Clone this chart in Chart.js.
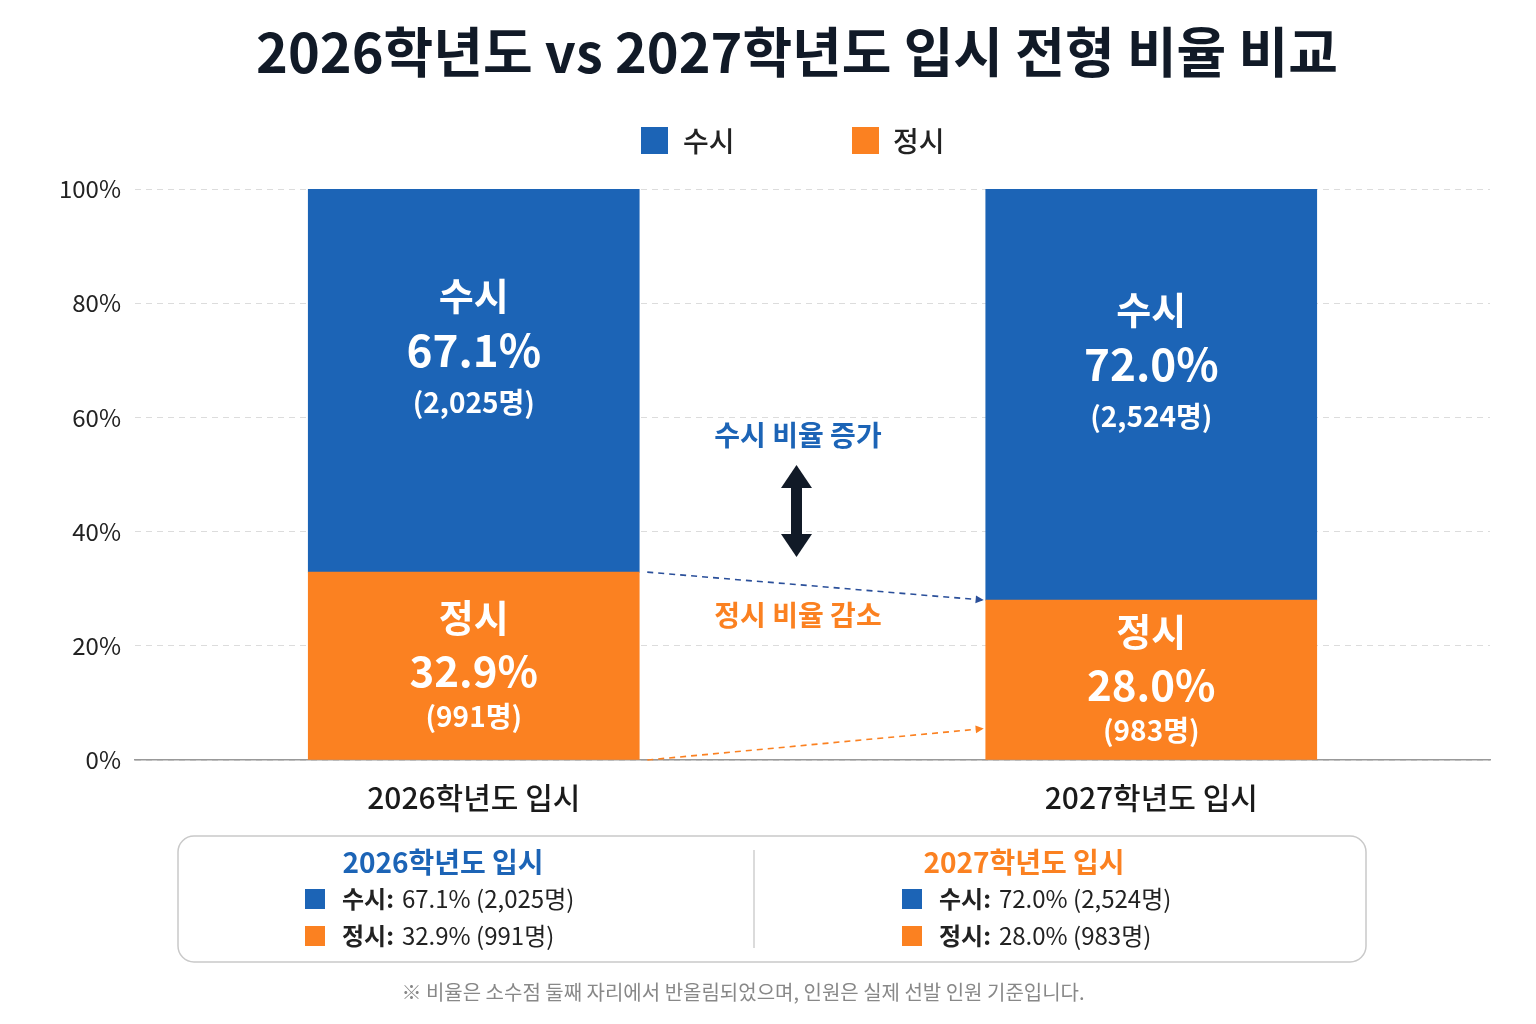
<!DOCTYPE html>
<html><head><meta charset="utf-8">
<script src="https://cdn.jsdelivr.net/npm/chart.js@4"></script>
<style>html,body{margin:0;padding:0;background:#fff}canvas{display:block}</style>
</head><body>
<canvas id="c" width="1536" height="1024"></canvas>
<script>
const categories = ['2026학년도 입시', '2027학년도 입시'];
const susiPct = [67.1, 72.0];
const jeongsiPct = [32.9, 28.0];
const susiCount = ['2,025명', '2,524명'];
const jeongsiCount = ['991명', '983명'];
const yTicks = [0, 20, 40, 60, 80, 100];

const BLUE = '#1c64b6', ORANGE = '#fb8121', FONT = '"Noto Sans CJK KR", "Noto Sans", sans-serif';

function arrowHead(ctx, x1, y1, x2, y2, size) {
  const a = Math.atan2(y2 - y1, x2 - x1);
  ctx.beginPath();
  ctx.moveTo(x2, y2);
  ctx.lineTo(x2 - size * Math.cos(a - 0.45), y2 - size * Math.sin(a - 0.45));
  ctx.lineTo(x2 - size * Math.cos(a + 0.45), y2 - size * Math.sin(a + 0.45));
  ctx.closePath();
  ctx.fill();
}

const extras = {
  id: 'extras',
  afterDraw(chart) {
    const ctx = chart.ctx;
    const y = chart.scales.y;
    const susiBars = chart.getDatasetMeta(0).data;
    const jeongBars = chart.getDatasetMeta(1).data;
    ctx.save();
    ctx.textAlign = 'center';
    ctx.textBaseline = 'middle';
    // title
    ctx.fillStyle = '#111a27';
    ctx.font = `bold 54px ${FONT}`;
    ctx.fillText('2026학년도 vs 2027학년도 입시 전형 비율 비교', 797, 52);
    // legend
    ctx.font = `500 28px ${FONT}`;
    ctx.textAlign = 'left';
    ctx.fillStyle = BLUE; ctx.fillRect(641, 127, 27, 27);
    ctx.fillStyle = '#222'; ctx.fillText('수시', 683, 141);
    ctx.fillStyle = ORANGE; ctx.fillRect(852, 127, 27, 27);
    ctx.fillStyle = '#222'; ctx.fillText('정시', 893, 141);
    ctx.textAlign = 'center';
    // bar labels
    ctx.fillStyle = '#fff';
    categories.forEach((c, i) => {
      const b = susiBars[i], o = jeongBars[i];
      const cy = (b.y + b.base) / 2 - 30;
      ctx.font = `bold 38px ${FONT}`; ctx.fillText('수시', b.x, cy - 55);
      ctx.font = `bold 44px ${FONT}`; ctx.fillText(susiPct[i].toFixed(1) + '%', b.x, cy);
      ctx.font = `bold 28px ${FONT}`; ctx.fillText('(' + susiCount[i] + ')', b.x, cy + 52);
      const oy = (o.y + o.base) / 2 + 5;
      ctx.font = `bold 38px ${FONT}`; ctx.fillText('정시', o.x, oy - 53);
      ctx.font = `bold 42px ${FONT}`; ctx.fillText(jeongsiPct[i].toFixed(1) + '%', o.x, oy);
      ctx.font = `bold 28px ${FONT}`; ctx.fillText('(' + jeongsiCount[i] + ')', o.x, oy + 46);
    });
    // connector lines
    const l = susiBars[0].x + susiBars[0].width / 2, r = susiBars[1].x - susiBars[1].width / 2;
    ctx.setLineDash([6, 5]); ctx.lineWidth = 1.6;
    ctx.strokeStyle = '#2a4f9a'; ctx.fillStyle = '#2a4f9a';
    ctx.beginPath(); ctx.moveTo(l + 8, jeongBars[0].y); ctx.lineTo(r - 2, jeongBars[1].y); ctx.stroke();
    ctx.setLineDash([]); arrowHead(ctx, l + 8, jeongBars[0].y, r - 2, jeongBars[1].y, 9);
    ctx.setLineDash([6, 5]);
    ctx.strokeStyle = ORANGE; ctx.fillStyle = ORANGE;
    ctx.beginPath(); ctx.moveTo(l + 8, y.getPixelForValue(0)); ctx.lineTo(r - 2, y.getPixelForValue(5.5)); ctx.stroke();
    ctx.setLineDash([]); arrowHead(ctx, l + 8, y.getPixelForValue(0), r - 2, y.getPixelForValue(5.5), 9);
    // centre annotations
    ctx.font = `bold 28px ${FONT}`;
    ctx.fillStyle = BLUE; ctx.fillText('수시 비율 증가', 798, 435);
    ctx.fillStyle = ORANGE; ctx.fillText('정시 비율 감소', 798, 615);
    ctx.fillStyle = '#111a27';
    ctx.fillRect(791, 484, 11, 54);
    ctx.beginPath(); ctx.moveTo(781, 488); ctx.lineTo(812, 488); ctx.lineTo(796.5, 465); ctx.closePath(); ctx.fill();
    ctx.beginPath(); ctx.moveTo(781, 534); ctx.lineTo(812, 534); ctx.lineTo(796.5, 557); ctx.closePath(); ctx.fill();
    // summary box
    ctx.strokeStyle = '#c9c9c9'; ctx.lineWidth = 1.5;
    ctx.beginPath(); ctx.roundRect(178, 836, 1188, 126, 16); ctx.stroke();
    ctx.strokeStyle = '#cfcfcf'; ctx.beginPath(); ctx.moveTo(754, 850); ctx.lineTo(754, 948); ctx.stroke();
    const cols = [{x: 443, head: BLUE, sq: 305}, {x: 1024, head: ORANGE, sq: 902}];
    cols.forEach((c, i) => {
      ctx.textAlign = 'center';
      ctx.fillStyle = c.head; ctx.font = `bold 28px ${FONT}`;
      ctx.fillText(categories[i], c.x, 862);
      ctx.textAlign = 'left';
      [[BLUE, '수시:', `${susiPct[i].toFixed(1)}% (${susiCount[i]})`, 899],
       [ORANGE, '정시:', `${jeongsiPct[i].toFixed(1)}% (${jeongsiCount[i]})`, 936]].forEach(([col, k, v, yy]) => {
        ctx.fillStyle = col; ctx.fillRect(c.sq, yy - 10, 20, 20);
        ctx.fillStyle = '#222'; ctx.font = `bold 24px ${FONT}`;
        ctx.fillText(k, c.sq + 37, yy);
        const w = ctx.measureText(k).width;
        ctx.font = `24px ${FONT}`; ctx.fillText(v, c.sq + 45 + w, yy);
      });
    });
    ctx.textAlign = 'center';
    ctx.fillStyle = '#888'; ctx.font = `20px ${FONT}`;
    ctx.fillText('※ 비율은 소수점 둘째 자리에서 반올림되었으며, 인원은 실제 선발 인원 기준입니다.', 743, 992);
    ctx.restore();
  }
};

new Chart(document.getElementById('c'), {
  type: 'bar',
  data: {
    labels: categories,
    datasets: [
      { label: '수시', data: susiPct, backgroundColor: BLUE, barThickness: 331, stack: 's', order: 1 },
      { label: '정시', data: jeongsiPct, backgroundColor: ORANGE, barThickness: 331, stack: 's', order: 0 }
    ]
  },
  options: {
    responsive: false,
    animation: false,
    layout: { padding: { top: 189, right: 46, left: 0, bottom: 0 } },
    plugins: { legend: { display: false }, title: { display: false }, tooltip: { enabled: false } },
    datasets: { bar: { grouped: false } },
    scales: {
      x: {
        stacked: true,
        grid: { display: false },
        border: { color: '#999', width: 1.5 },
        ticks: { color: '#1a1a1a', font: { family: FONT, size: 30, weight: '500' }, padding: 12 },
        afterFit(s) { s.height = 264; }
      },
      y: {
        stacked: true, min: 0, max: 100,
        afterBuildTicks(s) { s.ticks = yTicks.map(v => ({ value: v })); },
        ticks: { callback: v => v + '%', color: '#222', font: { family: FONT, size: 24 }, padding: 14 },
        grid: { color: '#dcdcdc', drawTicks: false },
        border: { display: false, dash: [6, 5] },
        afterFit(s) { s.width = 135; }
      }
    }
  },
  plugins: [extras]
});
</script>
</body></html>
